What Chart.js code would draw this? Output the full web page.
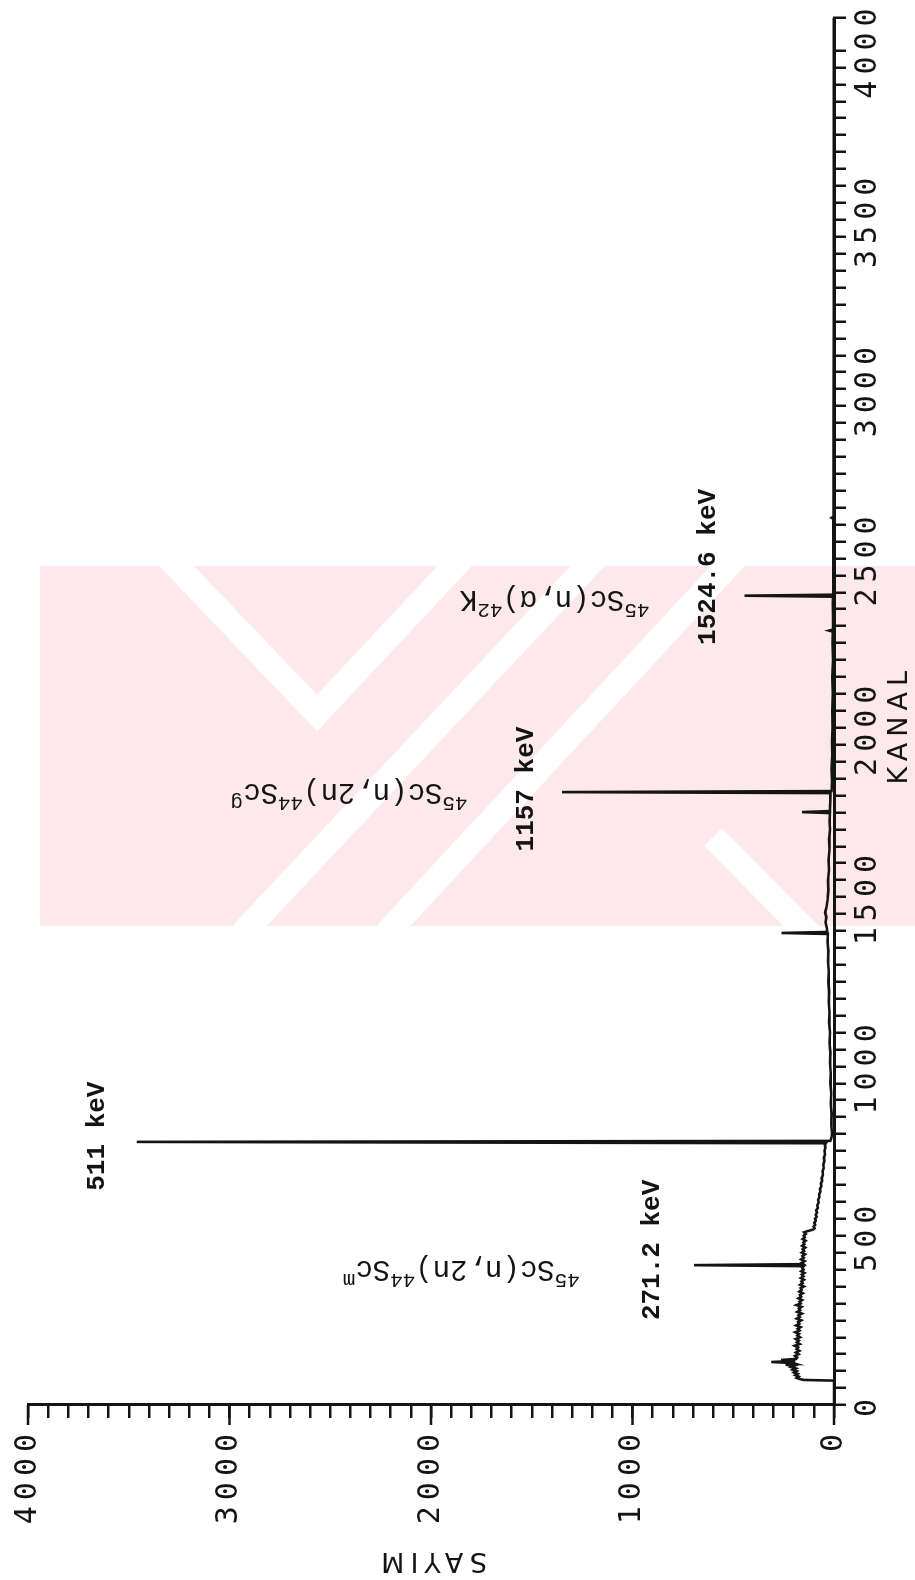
<!DOCTYPE html>
<html><head><meta charset="utf-8">
<script src="https://cdn.jsdelivr.net/npm/chart.js@4.4.1/dist/chart.umd.min.js"></script>
<style>
html,body{margin:0;padding:0;background:#fff;width:915px;height:1580px;overflow:hidden;}
#wm{position:absolute;left:0;top:0;}
#wrap{position:absolute;left:0;top:0;width:1580px;height:915px;transform-origin:0 0;transform:translate(0px,1580px) rotate(-90deg);}
canvas{display:block;}
</style></head><body>
<svg id="wm" width="915" height="1580">
  <defs><clipPath id="wmclip"><rect x="40" y="566" width="875" height="360"/></clipPath></defs>
  <g clip-path="url(#wmclip)">
    <rect x="40" y="566" width="875" height="360" fill="#fde8ec"/>
    <g stroke="#ffffff" stroke-width="25" fill="none" stroke-linejoin="miter">
      <line x1="240" y1="936" x2="597" y2="556"/>
      <line x1="384" y1="936" x2="737" y2="556"/>
      <polyline points="167,556 317,713 464,556"/>
      <line x1="713" y1="837" x2="815" y2="940"/>
    </g>
  </g>
</svg>
<div id="wrap"><canvas id="c" width="1580" height="915"></canvas></div>
<script>
// ---- data (channel = KANAL, count = SAYIM) ----
const channels = [0,72,74,77,80,84,88,92,96,100,104,108,112,116,119,121,124,127,130,133,136,140,145,150,155,160,165,170,175,180,185,190,195,200,205,210,215,220,225,230,235,240,245,250,255,260,265,270,275,280,285,290,295,300,305,310,315,320,325,330,335,340,345,350,355,360,365,370,375,380,385,390,395,400,405,410,413,416,420,425,430,435,440,445,450,455,460,465,470,475,480,485,490,495,500,505,510,514,518,522,527,532,538,544,550,556,562,568,575,582,590,598,606,614,622,630,638,646,654,662,670,680,690,700,710,720,730,740,750,760,768,773,777,780,790,800,830,860,890,920,950,980,1010,1040,1070,1100,1130,1160,1190,1220,1250,1280,1310,1340,1370,1391,1394,1397,1410,1425,1440,1455,1470,1490,1520,1550,1580,1610,1640,1670,1700,1725,1748,1751,1754,1775,1800,1807,1810,1813,1840,1880,1920,1960,2000,2050,2100,2150,2200,2250,2284,2287,2290,2330,2370,2387,2390,2393,2430,2500,2600,2617,2620,2623,2700,2900,3200,3600,4096];
const counts   = [0,0,150,172,185,176,192,181,198,186,205,190,212,196,240,188,205,311,192,262,188,183,194,176,189,172,186,178,195,170,184,175,190,168,182,174,192,171,180,166,188,172,178,163,185,170,176,160,182,168,174,161,186,165,171,158,176,163,169,155,172,160,166,150,168,156,162,149,165,152,160,147,163,151,158,150,695,152,160,146,163,150,157,144,160,148,155,143,158,147,152,141,156,145,150,140,148,128,104,96,101,93,98,90,94,86,91,84,88,80,83,76,79,72,74,67,70,63,65,59,61,55,57,51,53,48,50,45,47,43,45,40,3460,18,12,10,14,12,16,14,18,16,20,18,22,20,24,22,26,24,28,26,30,28,32,30,260,33,36,42,38,44,37,32,28,30,25,27,22,24,20,22,20,158,21,19,18,18,1350,12,10,12,8,10,7,9,6,8,5,7,6,25,6,5,6,5,444,4,4,3,4,3,12,3,2,2,1,1,1];
const channelTickLabels = [0,500,1000,1500,2000,2500,3000,3500,4000];
const countTickLabels = [0,1000,2000,3000,4000];
const channelTitle = 'KANAL';
const channelTitleAt = 2000;
const peakLabels = ['511 keV','271.2 keV','1157 keV','1524.6 keV'];
const peakLabelChannels = [794,458,1819,2475];
const peakLabelCounts = [3655,903,1524,621];
const reactionLabels = [
  [['45',1],['Sc(n,2n)',0],['44',1],['Sc',0],['m',1]],
  [['45',1],['Sc(n,2n)',0],['44',1],['Sc',0],['g',1]],
  [['45',1],['Sc(n,\u03b1)',0],['42',1],['K',0]]
];
const reactionChannels = [399,1807,2377];
const reactionCounts = [1850,2407,1386];

const points = channels.map((c,i)=>({x:c,y:counts[i]}));
const INK = '#141414';

const decorPlugin = {
  id:'decor',
  beforeDraw(chart){ chart.ctx.letterSpacing = '6px'; },
  afterDraw(chart){
    const ctx = chart.ctx, xs = chart.scales.x, ys = chart.scales.y;
    ctx.save();
    ctx.fillStyle = INK;
    // x axis title
    ctx.font = '27px "DejaVu Sans"';
    ctx.textAlign = 'center'; ctx.textBaseline = 'alphabetic';
    ctx.fillText(channelTitle, xs.getPixelForValue(channelTitleAt) + 3, 907);
    ctx.letterSpacing = '0px';
    // longer major ticks on the count axis
    ctx.strokeStyle = INK; ctx.lineWidth = 2.5;
    countTickLabels.forEach(v=>{
      const py = ys.getPixelForValue(v);
      ctx.beginPath(); ctx.moveTo(ys.right, py); ctx.lineTo(ys.right-20, py); ctx.stroke();
    });
    // energy labels
    ctx.font = 'bold 26px "Liberation Mono"';
    ctx.textAlign = 'center'; ctx.textBaseline = 'middle';
    peakLabels.forEach((t,i)=>{
      ctx.fillText(t, xs.getPixelForValue(peakLabelChannels[i]), ys.getPixelForValue(peakLabelCounts[i]));
    });
    // reaction labels (rotated)
    const big = '29px "Liberation Mono"', small = '21px "Liberation Mono"';
    ctx.textAlign = 'left'; ctx.textBaseline = 'alphabetic';
    reactionLabels.forEach((parts,i)=>{
      let total = 0;
      const w = parts.map(p=>{ ctx.font = p[1]?small:big; const m = ctx.measureText(p[0]).width; total += m; return m; });
      ctx.save();
      ctx.translate(xs.getPixelForValue(reactionChannels[i]), ys.getPixelForValue(reactionCounts[i]));
      ctx.rotate(-Math.PI/2);
      let x = -total/2;
      parts.forEach((p,k)=>{
        ctx.font = p[1]?small:big;
        ctx.fillText(p[0], x, p[1] ? -4 : 9);
        x += w[k];
      });
      ctx.restore();
    });
    ctx.restore();
  }
};

new Chart(document.getElementById('c'), {
  type:'line',
  data:{ datasets:[{ data:points, borderColor:INK, borderWidth:2.6, pointRadius:0, tension:0, fill:false }] },
  options:{
    responsive:false, animation:false, devicePixelRatio:1,
    layout:{ padding:{left:0,right:18,top:23,bottom:0} },
    plugins:{ legend:{display:false}, tooltip:{enabled:false} },
    scales:{
      x:{ type:'linear', position:'bottom', min:0, max:4096,
        afterFit(s){ s.height = 81; },
        ticks:{ stepSize:50, autoSkip:false, maxRotation:0, minRotation:0, padding:4, color:INK,
          font:{family:'"DejaVu Sans Mono"', size:30},
          callback:v=> channelTickLabels.includes(v) ? String(v) : '' },
        grid:{ display:true, drawOnChartArea:false, drawTicks:true, tickLength:12, color:INK, tickColor:INK, lineWidth:2.5 },
        border:{ display:true, color:INK, width:3 },
        title:{ display:false }
      },
      y:{ type:'linear', position:'left', min:0, max:4000,
        afterFit(s){ s.width = 175; },
        ticks:{ stepSize:100, autoSkip:false, padding:10, color:INK,
          font:{family:'"DejaVu Sans Mono"', size:30},
          callback:v=> countTickLabels.includes(v) ? String(v) : '' },
        grid:{ display:true, drawOnChartArea:false, drawTicks:true, tickLength:13, color:INK, tickColor:INK, lineWidth:2.5 },
        border:{ display:true, color:INK, width:3 },
        title:{ display:true, text:'SAYIM', color:INK, font:{family:'"DejaVu Sans"', size:27}, padding:{top:4,bottom:0} }
      }
    }
  },
  plugins:[decorPlugin]
});
</script>
</body></html>
